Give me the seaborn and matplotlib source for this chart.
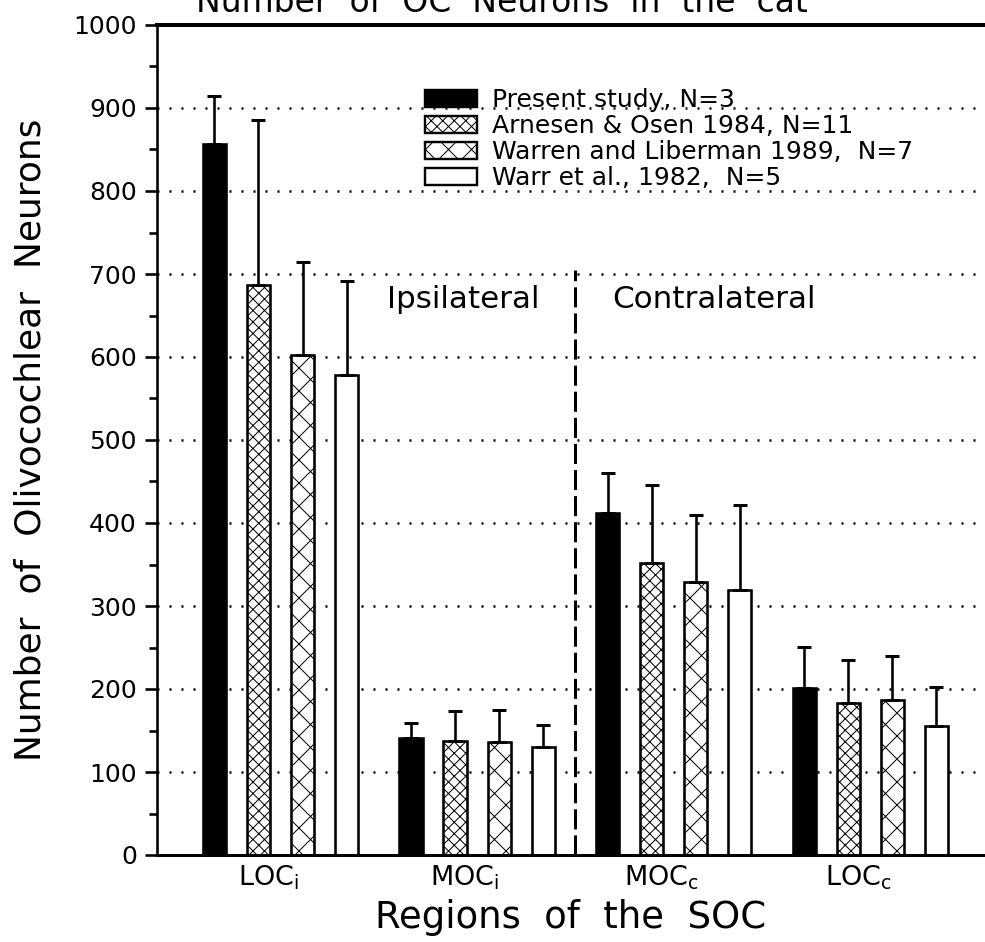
import numpy as np
import pandas as pd
import matplotlib
matplotlib.use("Agg")
import matplotlib.pyplot as plt
import seaborn as sns
from matplotlib.patches import Patch
from matplotlib.ticker import MultipleLocator
from matplotlib.transforms import ScaledTranslation

# ---------------- data ----------------
regions = ["LOC$_\\mathregular{i}$", "MOC$_\\mathregular{i}$",
           "MOC$_\\mathregular{c}$", "LOC$_\\mathregular{c}$"]
studies = ["Present study, N=3", "Arnesen & Osen 1984, N=11",
           "Warren and Liberman 1989,  N=7", "Warr et al., 1982,  N=5"]
present = [857, 141, 412, 201]
arnesen = [687, 137, 352, 183]
warren = [602, 136, 329, 187]
warr = [578, 130, 319, 156]
present_top = [915, 159, 460, 251]
arnesen_top = [885, 174, 446, 235]
warren_top = [715, 175, 410, 240]
warr_top = [692, 157, 422, 203]
yticks = [0, 100, 200, 300, 400, 500, 600, 700, 800, 900, 1000]

values = [present, arnesen, warren, warr]
tops = [present_top, arnesen_top, warren_top, warr_top]
facecolors = ["black", "white", "white", "white"]
hatches = [None, "xxxx", "xx", None]

df = pd.DataFrame({
    "region": [r for _ in studies for r in regions],
    "study": [s for s in studies for _ in regions],
    "value": [v for vals in values for v in vals],
})

# ---------------- style ----------------
DPI = 138.7
def p(px):
    return px * 72.0 / DPI

sns.set_style("ticks")
plt.rcParams["font.family"] = ["DejaVu Sans"]
plt.rcParams["mathtext.default"] = "regular"
plt.rcParams["hatch.linewidth"] = p(1.0)
plt.rcParams["hatch.color"] = "black"
for k in ["text.color", "axes.labelcolor", "xtick.color", "ytick.color",
          "axes.edgecolor"]:
    plt.rcParams[k] = "black"

fig = plt.figure(figsize=(985 / DPI, 942 / DPI), dpi=DPI)
ax = fig.add_axes([157 / 985, 87 / 942, 828 / 985, 830 / 942])

sns.barplot(data=df, x="region", y="value", hue="study", order=regions,
            hue_order=studies, palette=facecolors, saturation=1,
            width=0.896, gap=0.477, errorbar=None, edgecolor="black",
            linewidth=p(2.6), legend=False, ax=ax, zorder=2)

for cont, h, fc, tp in zip(ax.containers, hatches, facecolors, tops):
    xs, hs = [], []
    for b in cont:
        b.set_facecolor(fc)
        b.set_edgecolor("black")
        if h:
            b.set_hatch(h)
        xs.append(b.get_x() + b.get_width() / 2)
        hs.append(b.get_height())
    hs = np.array(hs)
    err = np.array(tp) - hs
    ax.errorbar(xs, hs, yerr=[np.zeros_like(err), err], fmt="none",
                ecolor="black", elinewidth=p(2.6), capsize=p(7),
                capthick=p(3), zorder=3)

# axes
ax.set_xlim(-0.6285, 3.585)
ax.set_ylim(0, 1000)
ax.set_yticks(yticks)
ax.yaxis.set_minor_locator(MultipleLocator(50))
ax.tick_params(axis="y", which="major", length=p(12), width=p(2.6),
               direction="out", pad=p(8), labelsize=p(25), color="black",
               labelcolor="black")
ax.tick_params(axis="y", which="minor", length=p(8), width=p(2.6),
               direction="out", color="black")
ax.tick_params(axis="x", length=0, labelsize=p(27), pad=p(9),
               labelcolor="black")
shift = ScaledTranslation(-12 / DPI, 0, fig.dpi_scale_trans)
for lab in ax.get_xticklabels():
    lab.set_transform(lab.get_transform() + shift)

ax.set_axisbelow(True)
ax.yaxis.grid(True, which="major", linestyle=(0, (0.8, 4)),
              linewidth=p(2.5), color="black")

ax.spines["right"].set_visible(False)
ax.spines["top"].set_linewidth(p(4))
ax.spines["left"].set_linewidth(p(2.6))
ax.spines["bottom"].set_linewidth(p(3))
for s in ax.spines.values():
    s.set_color("black")

ax.set_ylabel("Number  of  Olivocochlear  Neurons", fontsize=p(36),
              va="center")
ax.yaxis.set_label_coords(-0.153, 0.5)
ax.set_xlabel("Regions  of  the  SOC", fontsize=p(37), va="baseline")
ax.xaxis.set_label_coords(0.5, -0.088)

# divider and side labels
ax.vlines(1.5, 0, 705, colors="black", linewidth=p(3),
          linestyles=(0, (6.7, 2)), zorder=1)
ax.text(0.93, 669, "Ipsilateral", ha="center", va="center", fontsize=p(31))
ax.text(1.687, 669, "Contralateral", ha="left", va="center", fontsize=p(31))

# title (cut off at top in the reference)
fig.text(502 / 985, 1 - 12 / 942, "Number  of  OC  Neurons  in  the  cat",
         ha="center", va="baseline", fontsize=p(33))

# legend
handles = [Patch(facecolor=fc, edgecolor="black", hatch=h, linewidth=p(2.4))
           for fc, h in zip(facecolors, hatches)]
ax.legend(handles, studies, loc="upper left",
          bbox_to_anchor=(425 / 985, 1 - 88 / 942),
          bbox_transform=fig.transFigure, frameon=False, fontsize=p(25),
          handlelength=52 / 25, handleheight=17 / 25,
          handletextpad=15 / 25, labelspacing=0.08, borderpad=0,
          borderaxespad=0)

fig.savefig("out.png", dpi=DPI)
